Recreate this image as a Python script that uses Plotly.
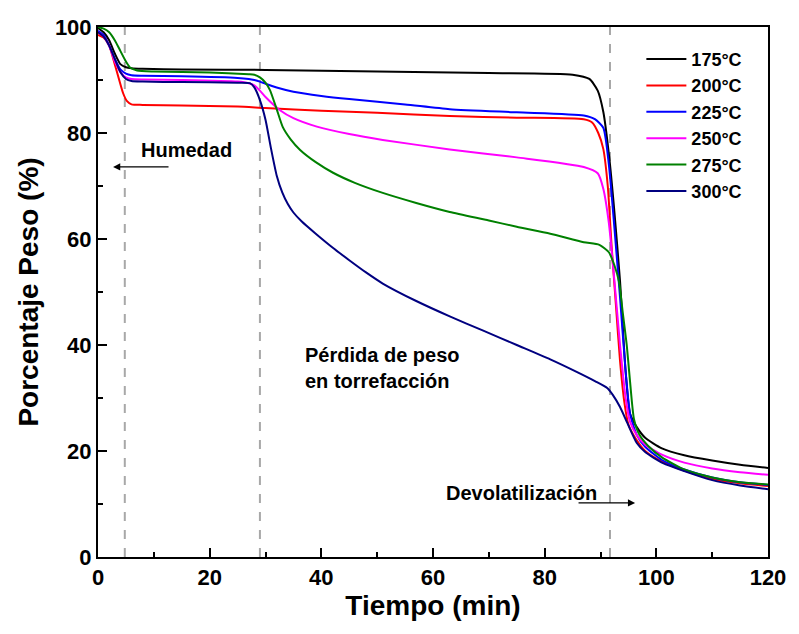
import plotly.graph_objects as go

# ---- data ----
labels = ["175°C", "200°C", "225°C", "250°C", "275°C", "300°C"]
colors = ["#000000", "#FF0000", "#0000FF", "#FF00FF", "#008000", "#000080"]

t_175 = [0, 1, 2, 3, 4, 5, 6, 8, 15, 30, 50, 70, 85, 88, 89.5, 90.5, 91.5, 92.5, 93.5, 94.5, 95.3, 96.5, 98, 101, 105, 110, 115, 120]
w_175 = [99.8, 99, 97.5, 95, 93, 92.4, 92.2, 92.1, 92, 91.9, 91.6, 91.3, 91, 90.2, 88, 84, 76, 65, 52, 35, 27, 24.5, 22.5, 20.5, 19.2, 18.2, 17.4, 16.8]

t_200 = [0, 1, 2, 3, 3.8, 4.5, 5.2, 6, 8, 15, 25, 30, 40, 50, 63, 75, 87, 88.5, 89.6, 90.5, 91.3, 92, 92.8, 93.5, 94.3, 95, 96.5, 98, 101, 105, 110, 115, 120]
w_200 = [98.5, 98, 96.5, 93, 90, 87.5, 86, 85.4, 85.3, 85.2, 85, 84.7, 84.2, 83.8, 83.2, 82.9, 82.6, 82, 80, 77, 70, 58.5, 47, 37, 29, 25, 22, 20, 18, 16.3, 14.7, 13.9, 13.4]

t_225 = [0, 1, 2, 3, 4, 5, 6, 8, 15, 25, 27, 28, 29, 30, 32, 35, 40, 45, 55, 63, 75, 87, 89, 90.5, 91.5, 92.5, 93.5, 94.5, 95.3, 96.5, 98, 101, 105, 110, 115, 120]
w_225 = [99.3, 98.5, 96.5, 94, 92, 91.2, 90.9, 90.8, 90.7, 90.4, 90.2, 90, 89.7, 89.3, 88.6, 87.8, 87, 86.4, 85.4, 84.5, 83.9, 83.3, 82.6, 81, 74, 62, 49, 35, 27, 23, 20.8, 18.3, 16.5, 15, 14.1, 13.6]

t_250 = [0, 1, 2, 3, 4, 5, 6, 8, 15, 25, 27, 28, 29, 30, 32.6, 35, 39.2, 45, 51, 63, 75, 87, 89.5, 90.5, 91.5, 92.5, 93.5, 94.5, 95.3, 96.5, 98, 101, 105, 110, 115, 120]
w_250 = [99, 98.2, 96.5, 93.5, 91.5, 90.5, 90.2, 90.1, 90, 89.7, 89.4, 89, 88, 86.8, 84.3, 82.8, 81.2, 79.8, 78.7, 76.9, 75.4, 73.6, 72.4, 69.5, 63, 52, 40, 30, 25.5, 23, 21.2, 19.3, 17.8, 16.7, 16, 15.5]

t_275 = [0, 1, 2, 3, 4, 5, 5.8, 7, 10, 20, 27, 28, 29, 30, 30.8, 32, 33.1, 34.5, 36.2, 39, 42.1, 46, 51, 57, 63, 70, 75, 81, 87, 89.8, 91.5, 92.5, 93.3, 94, 94.7, 95.3, 96, 97, 98.5, 101, 105, 110, 115, 120]
w_275 = [100, 99.7, 99, 97.5, 95.5, 93.5, 92.3, 91.8, 91.6, 91.4, 91.1, 91, 90.5, 89.5, 88.1, 84.5, 81.1, 78.8, 76.8, 74.5, 72.5, 70.6, 68.7, 66.8, 65.1, 63.5, 62.3, 61, 59.4, 58.9, 57.5, 55, 52, 46, 40, 33, 26, 23, 21, 18.8, 16.5, 15, 14.1, 13.7]

t_300 = [0, 1, 2, 3, 4, 5, 6, 8, 15, 25, 27.2, 28, 29, 30, 31, 32, 33, 34, 35, 36.5, 39, 42, 45, 48, 51, 57, 63, 69, 75, 81, 86, 89, 91.2, 92.2, 93.5, 94.8, 96.5, 98, 101.2, 105, 110, 115, 120]
w_300 = [99, 98.2, 96.5, 94, 91.5, 90.2, 89.8, 89.7, 89.6, 89.5, 89.4, 88.6, 86.2, 82.5, 77, 72, 68.8, 66.6, 65, 63.3, 61, 58.4, 56.0, 53.7, 51.6, 48.3, 45.4, 42.7, 40.0, 37.3, 34.8, 33.2, 31.9, 30.6, 28.3, 25.3, 21.5, 19.8, 17.7, 16.2, 14.5, 13.5, 12.8]

times = [t_175, t_200, t_225, t_250, t_275, t_300]
weights = [w_175, w_200, w_225, w_250, w_275, w_300]

stage_lines = [4.8, 29, 91.7]
x_ticks = [0, 20, 40, 60, 80, 100, 120]
y_ticks = [0, 20, 40, 60, 80, 100]

FONT = "Liberation Sans, Arial, sans-serif"

fig = go.Figure()
for lab, col, t, w in zip(labels, colors, times, weights):
    fig.add_trace(go.Scatter(x=t, y=w, mode="lines", name=f"<b>{lab}</b>",
                             line=dict(color=col, width=2, shape="spline", smoothing=0.6)))

for xv in stage_lines:
    fig.add_shape(type="line", x0=xv, x1=xv, y0=0, y1=100, xref="x", yref="y",
                  line=dict(color="#A8A8A8", width=2, dash="dash"), layer="below")

ann_font = dict(family=FONT, size=20, color="black")
fig.add_annotation(x=15.8, y=76.8, text="<b>Humedad</b>", showarrow=False, font=ann_font)
fig.add_annotation(x=2.7, y=73.6, ax=12.9, ay=73.6, axref="x", ayref="y", text="",
                   showarrow=True, arrowhead=2, arrowsize=1.2, arrowwidth=1.2, arrowcolor="black")
fig.add_annotation(x=36.7, y=35.6, text="<b>Pérdida de peso<br>en torrefacción</b>", showarrow=False,
                   xanchor="left", align="left", font=ann_font)
fig.add_annotation(x=62, y=12.1, text="<b>Devolatilización</b>", showarrow=False, xanchor="left", font=ann_font)
fig.add_annotation(x=96.2, y=10.2, ax=85.8, ay=10.2, axref="x", ayref="y", text="",
                   showarrow=True, arrowhead=2, arrowsize=1.2, arrowwidth=1.2, arrowcolor="black")

axis_common = dict(showline=True, linecolor="black", linewidth=2, mirror=True, showgrid=False,
                   zeroline=False, ticks="inside", ticklen=9, tickwidth=1.5, tickcolor="black",
                   automargin=False,
                   tickfont=dict(family=FONT, size=22, color="black"))

fig.update_xaxes(range=[0, 120], tickvals=x_ticks, ticktext=[f"<b>{v}</b>" for v in x_ticks],
                 minor=dict(ticks="inside", dtick=10, ticklen=5, tickwidth=1.5, tickcolor="black"),
                 title=dict(text="<b>Tiempo (min)</b>", font=dict(family=FONT, size=28, color="black"), standoff=6),
                 **axis_common)
fig.update_yaxes(range=[0, 100], tickvals=y_ticks, ticktext=[f"<b>{v}</b>" for v in y_ticks],
                 minor=dict(ticks="inside", dtick=10, ticklen=5, tickwidth=1.5, tickcolor="black"),
                 title=dict(text="<b>Porcentaje Peso (%)</b>", font=dict(family=FONT, size=28, color="black"), standoff=8),
                 **axis_common)

fig.update_layout(
    width=799, height=634,
    margin=dict(l=90, r=39, t=19, b=85),
    paper_bgcolor="white", plot_bgcolor="white",
    legend=dict(x=0.811, y=0.974, xanchor="left", yanchor="top", bgcolor="rgba(0,0,0,0)",
                font=dict(family=FONT, size=18, color="black"), tracegroupgap=0, itemwidth=40),
    showlegend=True,
)

fig.write_html("out.html")
